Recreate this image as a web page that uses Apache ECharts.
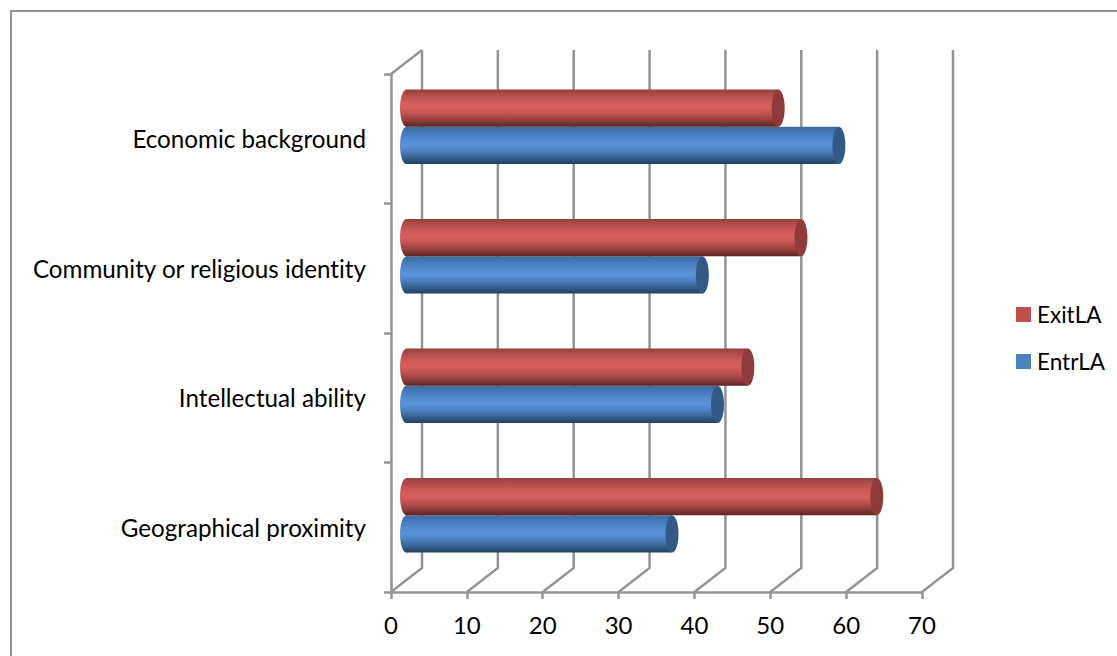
<!DOCTYPE html>
<html>
<head>
<meta charset="utf-8">
<style>
html,body{margin:0;padding:0;background:#fff}
#chart{width:1117px;height:656px}
#chart text{font-variant-ligatures:none}
</style>
<script src="https://cdn.jsdelivr.net/npm/echarts@6/dist/echarts.min.js"></script>
</head>
<body>
<div id="chart"></div>
<script>
// Survey values per category, listed bottom to top on the vertical axis.
const categories = ['Geographical proximity', 'Intellectual ability', 'Community or religious identity', 'Economic background'];
const entrLA = [35, 41, 39, 57];
const exitLA = [62, 45, 52, 49];
const xTicks = [0, 10, 20, 30, 40, 50, 60, 70];

// Oblique projection of the pseudo-3D box: how far the back wall is shifted.
const DEPTH_X = 31, DEPTH_Y = -24;
const GRID_COLOR = '#949494';
const LINE_WIDTH = 2.5;

const stops = c => new echarts.graphic.LinearGradient(0, 0, 0, 1, c.map((color, i) => ({ offset: i / (c.length - 1), color })));
const redBody = ['#93403e', '#b54f4c', '#cf5b58', '#d95f5c', '#bb514e', '#913e3c', '#5e2322'];
const blueBody = ['#3c6a9f', '#477aba', '#528acd', '#5a94da', '#4a7dba', '#34618f', '#223f60'];

// A horizontal cylinder lying halfway along the depth of the box.
function cylinder(bodyStops, capColor, side) {
  return function (params, api) {
    const value = api.value(0);
    const band = api.size([0, 1])[1];
    const height = band * 0.288;
    const start = api.coord([0, api.value(1)]);
    const end = api.coord([value, api.value(1)]);
    const cy = start[1] + DEPTH_Y / 2 + side * height / 2;
    const x0 = start[0] + DEPTH_X / 2;
    const x1 = end[0] + DEPTH_X / 2;
    const rx = 6.5, ry = height / 2;
    const body = stops(bodyStops);
    return {
      type: 'group',
      children: [
        { type: 'ellipse', shape: { cx: x0, cy, rx, ry }, style: { fill: body } },
        { type: 'rect', shape: { x: x0, y: cy - ry, width: x1 - x0, height }, style: { fill: body } },
        { type: 'ellipse', shape: { cx: x1, cy, rx, ry }, style: { fill: capColor } }
      ]
    };
  };
}

// Floor diagonals and back-wall verticals for each value tick.
function wallLine(params, api) {
  const v = api.value(0);
  const cs = params.coordSys;
  const front = api.coord([v, 0]);
  const fx = front[0], fy = cs.y + cs.height;
  const children = [{
    type: 'polyline',
    shape: { points: [[fx, fy], [fx + DEPTH_X, fy + DEPTH_Y], [fx + DEPTH_X, cs.y + DEPTH_Y]] },
    style: { stroke: GRID_COLOR, lineWidth: LINE_WIDTH, fill: null }
  }];
  if (v === 0) {
    children.push({
      type: 'line',
      shape: { x1: fx, y1: cs.y, x2: fx + DEPTH_X, y2: cs.y + DEPTH_Y },
      style: { stroke: GRID_COLOR, lineWidth: LINE_WIDTH }
    });
  }
  return { type: 'group', children };
}

const chart = echarts.init(document.getElementById('chart'), null, { renderer: 'svg' });
const fontFamily = 'Lato, "Open Sans", sans-serif';
chart.setOption({
  animation: false,
  backgroundColor: '#fff',
  graphic: [{
    type: 'rect',
    shape: { x: 11, y: 11, width: 1300, height: 900 },
    style: { fill: 'none', stroke: GRID_COLOR, lineWidth: 2 },
    silent: true
  }],
  grid: { left: 391, top: 74, width: 531, height: 518 },
  legend: {
    data: ['ExitLA', 'EntrLA'],
    orient: 'vertical',
    left: 1011,
    top: 298,
    icon: 'rect',
    itemWidth: 15,
    itemHeight: 15,
    itemGap: 24,
    textStyle: { fontFamily, fontSize: 22.5, color: '#000', padding: [0, 0, 0, 1] }
  },
  xAxis: {
    type: 'value',
    min: 0,
    max: 70,
    interval: 10,
    splitLine: { show: false },
    axisLine: { show: true, lineStyle: { color: GRID_COLOR, width: LINE_WIDTH } },
    axisTick: { show: true, length: 7, lineStyle: { color: GRID_COLOR, width: LINE_WIDTH } },
    axisLabel: { fontFamily, fontSize: 24, color: '#000', margin: 20 }
  },
  yAxis: {
    type: 'category',
    data: categories,
    axisLine: { show: true, lineStyle: { color: GRID_COLOR, width: LINE_WIDTH } },
    axisTick: { show: true, length: 7, lineStyle: { color: GRID_COLOR, width: LINE_WIDTH } },
    axisLabel: { fontFamily, fontSize: 24.2, color: '#000', margin: 25, padding: [4, 0, 0, 0] }
  },
  series: [
    {
      name: 'walls', type: 'custom', silent: true, z: 1, clip: false,
      data: xTicks.map(v => [v]),
      encode: { x: 0 },
      renderItem: wallLine
    },
    {
      name: 'EntrLA', type: 'custom', z: 2, clip: false,
      itemStyle: { color: '#4f81bd' },
      data: entrLA.map((v, i) => [v, i]),
      encode: { x: 0, y: 1 },
      renderItem: cylinder(blueBody, '#325a88', 1)
    },
    {
      name: 'ExitLA', type: 'custom', z: 3, clip: false,
      itemStyle: { color: '#c0504d' },
      data: exitLA.map((v, i) => [v, i]),
      encode: { x: 0, y: 1 },
      renderItem: cylinder(redBody, '#8f3b3a', -1)
    }
  ]
});
</script>
</body>
</html>
